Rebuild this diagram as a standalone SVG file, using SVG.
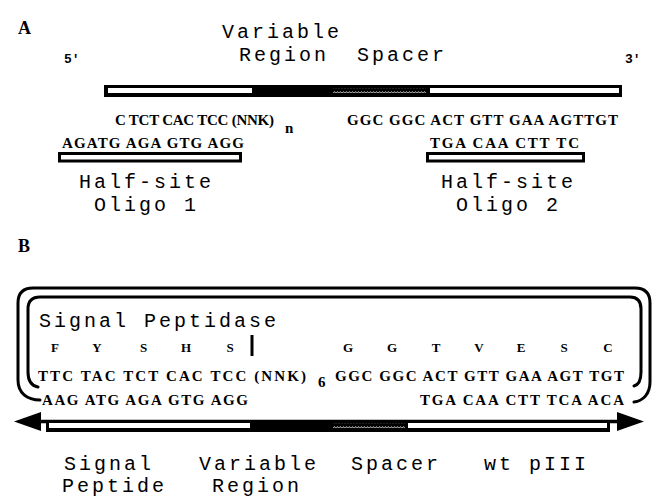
<svg xmlns="http://www.w3.org/2000/svg" width="656" height="499" viewBox="0 0 656 499">
<style>
.lbl{font-family:"Liberation Mono",monospace;font-size:20px;letter-spacing:3px;fill:#000}
.seq{font-family:"Liberation Serif",serif;font-weight:bold;font-size:15px;fill:#000}
.aa{font-family:"Liberation Serif",serif;font-weight:bold;font-size:13px;fill:#000;text-anchor:middle}
.sub{font-family:"Liberation Serif",serif;font-weight:bold;font-size:15px;fill:#000}
.pl{font-family:"Liberation Serif",serif;font-weight:bold;font-size:18px;fill:#000}
.end{font-family:"Liberation Mono",monospace;font-weight:bold;font-size:13px;fill:#000}
.box{fill:#fff;stroke:#000;stroke-width:3}
.brk{fill:none;stroke:#000;stroke-width:3;stroke-linecap:round}
</style>
<defs>
<pattern id="zig" patternUnits="userSpaceOnUse" x="0" y="0" width="3" height="5">
<rect width="3" height="5" fill="#000"/>
<path d="M0,3.4 L1.5,1.6 L3,3.4" fill="none" stroke="#fff" stroke-width="0.8"/>
</pattern>
<marker id="ah" markerUnits="userSpaceOnUse" markerWidth="27" markerHeight="20" refX="0" refY="9.5" orient="auto-start-reverse" viewBox="0 0 27 20">
<path d="M0,0 L27,9.5 L0,19 z" fill="#000"/>
</marker>
</defs>

<g id="panelA">
<text class="pl" x="18" y="34">A</text>
<g id="labelsA">
<text class="lbl" x="222" y="38">Variable</text>
<text class="lbl" x="239" y="61">Region</text>
<text class="lbl" x="357" y="61">Spacer</text>
<text class="end" x="64" y="63">5'</text>
<text class="end" x="625" y="63">3'</text>
</g>
<g id="barA">
<rect x="104" y="85" width="518" height="12" fill="#000"/>
<rect x="108" y="88" width="144" height="5" fill="#fff"/>
<rect x="333" y="88" width="93" height="5" fill="url(#zig)"/>
<rect x="430" y="88" width="189" height="5" fill="#fff"/>
</g>
<g id="seqA">
<text class="seq" x="115" y="125" textLength="159" lengthAdjust="spacing">C TCT CAC TCC (NNK)</text>
<text class="sub" x="285" y="133">n</text>
<text class="seq" x="347" y="125" textLength="271" lengthAdjust="spacing">GGC GGC ACT GTT GAA AGTTGT</text>
</g>
<g id="oligo1">
<text class="seq" x="62" y="148" textLength="182" lengthAdjust="spacing">AGATG AGA GTG AGG</text>
<rect class="box" x="59.5" y="153.5" width="181" height="7.5"/>
<text class="lbl" x="79" y="188">Half-site</text>
<text class="lbl" x="94" y="211">Oligo 1</text>
</g>
<g id="oligo2">
<text class="seq" x="430" y="148" textLength="149" lengthAdjust="spacing">TGA CAA CTT TC</text>
<rect class="box" x="427.5" y="153.5" width="156" height="7.5"/>
<text class="lbl" x="441" y="188">Half-site</text>
<text class="lbl" x="456" y="211">Oligo 2</text>
</g>
</g>

<g id="panelB">
<text class="pl" x="18" y="252">B</text>
<g id="brackets">
<path class="brk" d="M40,400 C27,400 18,393 18,380 L18,303 Q18,288 33,288 L635,288 Q650,288 650,303 L650,382 C650,394 643,401 634,402"/>
<path class="brk" d="M38,387 C32,386 28,381 28,372 L28,309 Q28,297 40,297 L630,297 Q641,297 641,309 L641,372 C641,381 638,385 634,386"/>
</g>
<text class="lbl" x="39" y="327">Signal Peptidase</text>
<rect x="250.5" y="335" width="3" height="21" fill="#000"/>
<g id="aminoacids">
<text class="aa" x="55" y="352">F</text>
<text class="aa" x="97" y="352">Y</text>
<text class="aa" x="143.5" y="352">S</text>
<text class="aa" x="186" y="352">H</text>
<text class="aa" x="230" y="352">S</text>
<text class="aa" x="348" y="352">G</text>
<text class="aa" x="392" y="352">G</text>
<text class="aa" x="436" y="352">T</text>
<text class="aa" x="479" y="352">V</text>
<text class="aa" x="521" y="352">E</text>
<text class="aa" x="564" y="352">S</text>
<text class="aa" x="608" y="352">C</text>
</g>
<g id="seqB">
<text class="seq" x="38" y="381" textLength="268" lengthAdjust="spacing">TTC TAC TCT CAC TCC (NNK)</text>
<text class="sub" x="318" y="387">6</text>
<text class="seq" x="335" y="381" textLength="289" lengthAdjust="spacing">GGC GGC ACT GTT GAA AGT TGT</text>
<text class="seq" x="42" y="405" textLength="206" lengthAdjust="spacing">AAG ATG AGA GTG AGG</text>
<text class="seq" x="420" y="405" textLength="204" lengthAdjust="spacing">TGA CAA CTT TCA ACA</text>
</g>
</g>

<g id="connectors">
<line x1="41" y1="421.5" x2="617" y2="421.5" stroke="#000" stroke-width="3.5" marker-start="url(#ah)" marker-end="url(#ah)"/>
</g>

<g id="barB">
<rect x="46" y="420" width="564" height="12" fill="#000"/>
<rect x="49" y="423" width="201" height="5" fill="#fff"/>
<rect x="333" y="423" width="72" height="5" fill="url(#zig)"/>
<rect x="408" y="423" width="199" height="5" fill="#fff"/>
</g>

<g id="labelsB">
<text class="lbl" x="64" y="470">Signal</text>
<text class="lbl" x="62" y="492">Peptide</text>
<text class="lbl" x="199" y="470">Variable</text>
<text class="lbl" x="212" y="492">Region</text>
<text class="lbl" x="351" y="470">Spacer</text>
<text class="lbl" x="484" y="470">wt pIII</text>
</g>
</svg>
